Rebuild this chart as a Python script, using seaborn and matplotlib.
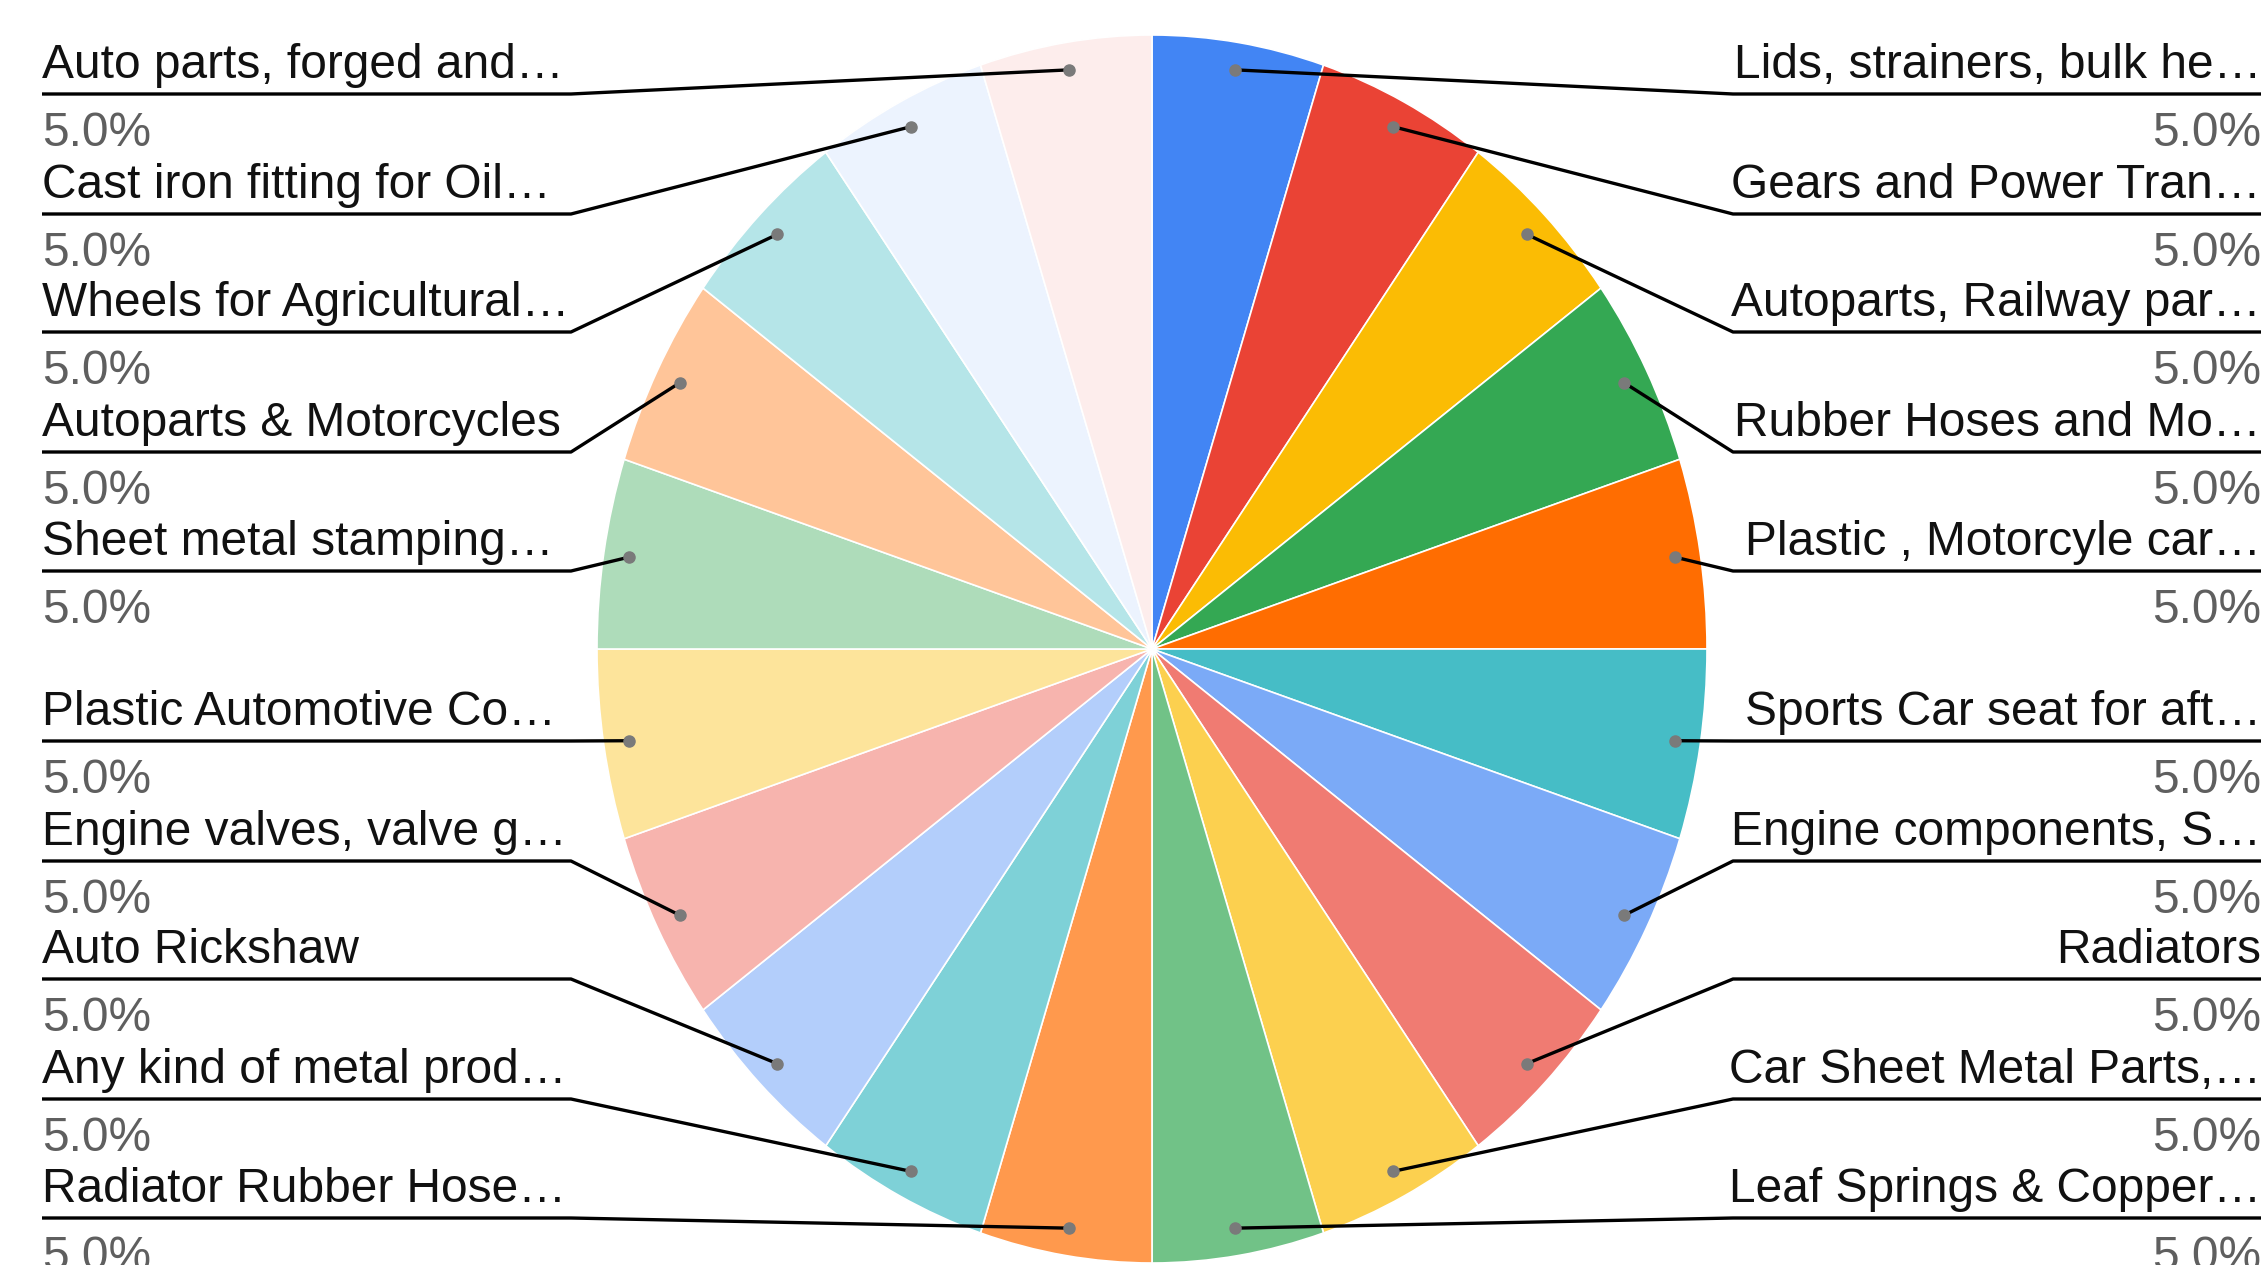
import numpy as np
import matplotlib
matplotlib.use("Agg")
import matplotlib.pyplot as plt
import seaborn as sns

# ---- data ----
categories = [
    "Lids, strainers, bulk he…",
    "Gears and Power Tran…",
    "Autoparts, Railway par…",
    "Rubber Hoses and Mo…",
    "Plastic , Motorcyle car…",
    "Sports Car seat for aft…",
    "Engine components, S…",
    "Radiators",
    "Car Sheet Metal Parts,…",
    "Leaf Springs & Copper…",
    "Radiator Rubber Hose…",
    "Any kind of metal prod…",
    "Auto Rickshaw",
    "Engine valves, valve g…",
    "Plastic Automotive Co…",
    "Sheet metal stamping…",
    "Autoparts & Motorcycles",
    "Wheels for Agricultural…",
    "Cast iron fitting for Oil…",
    "Auto parts, forged and…",
]
values = [1] * 20
colors = [
    "#4285F4", "#EA4335", "#FBBC04", "#34A853", "#FF6D01",
    "#46BDC6", "#7BAAF7", "#F07B72", "#FCD04F", "#71C287",
    "#FF994D", "#7ED1D7", "#B3CEFB", "#F7B4AE", "#FDE49B",
    "#AEDCBA", "#FFC599", "#B5E5E8", "#ECF3FE", "#FDEDEC",
]

# ---- layout (pixels, from top-left) ----
W, H = 2265, 1265
underline_y = [94, 214, 332, 452, 571, 741, 861, 979, 1099, 1218]
left_x0, left_x1 = 42, 571
right_x0, right_x1 = 1733, 2261
cx, cy, rx, ry = 1152, 649, 555, 614

sns.set_theme(style="white")
plt.rcParams["font.family"] = ["Liberation Sans", "DejaVu Sans"]

fig = plt.figure(figsize=(W / 100, H / 100), dpi=100)
fig.patch.set_facecolor("white")

ax = fig.add_axes([(cx - rx) / W, (H - cy - ry) / H, 2 * rx / W, 2 * ry / H])
wedges, _ = ax.pie(values, colors=colors, startangle=90, counterclock=False,
                   radius=1, wedgeprops=dict(edgecolor="white", linewidth=1.2))
ax.set_aspect("auto")
ax.set_xlim(-1, 1)
ax.set_ylim(-1, 1)
ax.axis("off")

ov = fig.add_axes([0, 0, 1, 1], zorder=5)
ov.set_xlim(0, W)
ov.set_ylim(H, 0)
ov.axis("off")

total = float(sum(values))
fs = 34.5
line_kw = dict(color="black", lw=2.4, solid_capstyle="butt", zorder=3)

def dot_pos(w):
    th = np.deg2rad((w.theta1 + w.theta2) / 2.0)
    p = ax.transData.transform((0.955 * np.cos(th), 0.955 * np.sin(th)))
    return ov.transData.inverted().transform(p)

right_idx = list(range(0, 10))
left_idx = list(range(19, 9, -1))

for slot, i in enumerate(right_idx):
    uy = underline_y[slot]
    dx, dy = dot_pos(wedges[i])
    ov.plot([dx, right_x0, right_x1], [dy, uy, uy], **line_kw)
    ov.plot([dx], [dy], "o", color="#7a7a7a", ms=8, zorder=4)
    ov.text(right_x1, uy - 16, categories[i], ha="right", va="baseline",
            fontsize=fs, color="#111111")
    ov.text(right_x1, uy + 52, f"{values[i] / total * 100:.1f}%", ha="right",
            va="baseline", fontsize=fs, color="#5f5f5f")

for slot, i in enumerate(left_idx):
    uy = underline_y[slot]
    dx, dy = dot_pos(wedges[i])
    ov.plot([dx, left_x1, left_x0], [dy, uy, uy], **line_kw)
    ov.plot([dx], [dy], "o", color="#7a7a7a", ms=8, zorder=4)
    ov.text(left_x0, uy - 16, categories[i], ha="left", va="baseline",
            fontsize=fs, color="#111111")
    ov.text(left_x0, uy + 52, f"{values[i] / total * 100:.1f}%", ha="left",
            va="baseline", fontsize=fs, color="#5f5f5f")

fig.savefig("out.png", dpi=100, facecolor="white")
